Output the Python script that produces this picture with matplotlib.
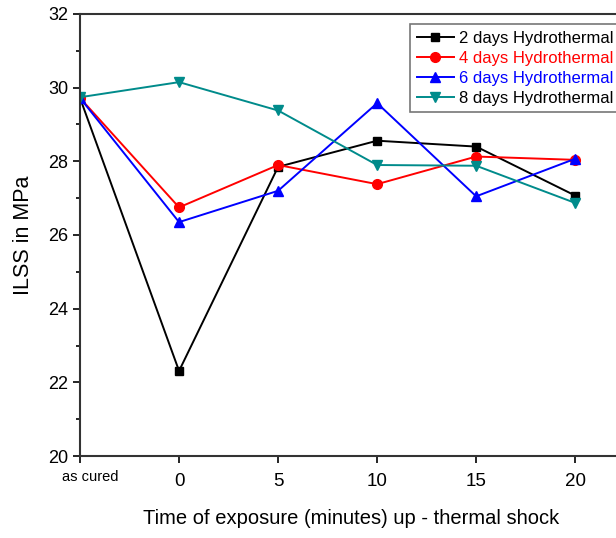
import numpy as np
import matplotlib.pyplot as plt
from matplotlib.ticker import MultipleLocator
from matplotlib.transforms import ScaledTranslation

plt.rcParams['font.family'] = ['Liberation Sans', 'DejaVu Sans']

# x positions: "as cured" is put one step left of 0
x_pos = [-5, 0, 5, 10, 15, 20]
x_labels = ['as cured', '0', '5', '10', '15', '20']

days2 = [29.72, 22.31, 27.85, 28.56, 28.40, 27.07]
days4 = [29.72, 26.75, 27.90, 27.38, 28.13, 28.04]
days6 = [29.72, 26.35, 27.20, 29.58, 27.05, 28.07]
days8 = [29.74, 30.15, 29.38, 27.90, 27.88, 26.87]

series_names = ['2 days Hydrothermal', '4 days Hydrothermal',
                '6 days Hydrothermal', '8 days Hydrothermal']

fig = plt.figure(figsize=(6.16, 5.38), dpi=100)
ax = fig.add_axes([0.1299, 0.1524, 0.8801, 0.8216])

ax.plot(x_pos, days2, color='black', marker='s', ms=6, lw=1.4, label=series_names[0])
ax.plot(x_pos, days4, color='red', marker='o', ms=7, lw=1.4, label=series_names[1])
ax.plot(x_pos, days6, color='blue', marker='^', ms=7, lw=1.4, label=series_names[2])
ax.plot(x_pos, days8, color='#008b8b', marker='v', ms=7, lw=1.4, label=series_names[3])

ax.set_xlim(-5, 22.37)
ax.set_ylim(20, 32)
ax.set_xticks(x_pos)
# first label is drawn separately (smaller, nudged right)
ax.set_xticklabels([''] + x_labels[1:], fontsize=13.5)
ax.text(x_pos[0], 0, x_labels[0], fontsize=10.5, ha='center', va='center',
        transform=ax.get_xaxis_transform() + ScaledTranslation(0.10, -0.21, fig.dpi_scale_trans))
ax.yaxis.set_major_locator(MultipleLocator(2))
ax.yaxis.set_minor_locator(MultipleLocator(1))
ax.tick_params(axis='y', which='major', labelsize=13, length=5, width=1.2, direction='out')
ax.tick_params(axis='y', which='minor', length=3, width=1.2, direction='out')
ax.tick_params(axis='x', which='major', length=5, width=1.2, direction='out', pad=7)

for s in ['left', 'bottom', 'top']:
    ax.spines[s].set_linewidth(1.5)
    ax.spines[s].set_color('#333333')
ax.spines['right'].set_visible(False)

ax.set_xlabel('Time of exposure (minutes) up - thermal shock', fontsize=14.5, labelpad=14)
ax.set_ylabel('ILSS in MPa', fontsize=15.5, labelpad=10)

leg = ax.legend(loc='upper left', bbox_to_anchor=(0.609, 0.977), fontsize=12,
                frameon=True, fancybox=False, edgecolor='#555555',
                handlelength=2.2, handletextpad=0.3, borderpad=0.4, labelspacing=0.3,
                borderaxespad=0)
leg.get_frame().set_linewidth(1.2)
text_colors = ['black', 'red', 'blue', 'black']
for t, c in zip(leg.get_texts(), text_colors):
    t.set_color(c)

fig.savefig('out.png', dpi=100)
